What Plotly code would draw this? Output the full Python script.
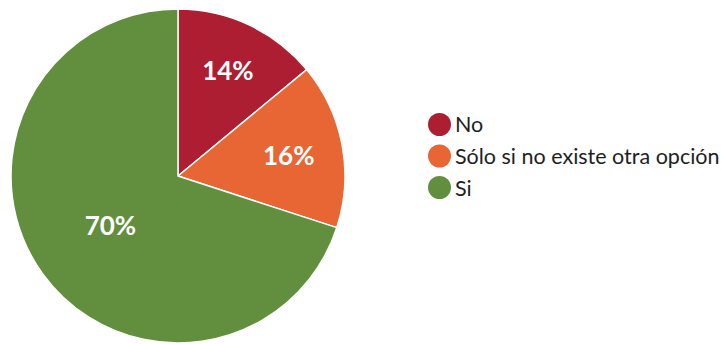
import plotly.graph_objects as go

labels = ["No", "Sólo si no existe otra opción", "Si"]
values = [14, 16, 70]
colors = ["#AE1E32", "#E76633", "#628F3E"]

W, H = 721, 344

fig = go.Figure()
fig.add_trace(go.Pie(
    labels=labels, values=values, sort=False, direction="clockwise", rotation=0,
    marker=dict(colors=colors, line=dict(color="white", width=1.5)),
    textinfo="percent", texttemplate="%{percent:.0%}", textposition="inside",
    insidetextorientation="horizontal",
    textfont=dict(family="Lato", size=26, color="white", weight="bold"),
    showlegend=False, hoverinfo="label+percent",
    domain=dict(x=[11/W, 345/W], y=[1/H, 335/H]),
))

# legend drawn manually (circle markers larger than plotly's legend cap)
leg_cx, leg_r, leg_y0, leg_dy, text_x = 439.5, 11.5, 124.5, 31.5, 453
for i, (lab, col) in enumerate(zip(labels, colors)):
    cy = leg_y0 + i * leg_dy
    fig.add_shape(type="circle", xref="paper", yref="paper",
                  x0=(leg_cx - leg_r) / W, x1=(leg_cx + leg_r) / W,
                  y0=1 - (cy + leg_r) / H, y1=1 - (cy - leg_r) / H,
                  fillcolor=col, line=dict(width=0))
    fig.add_annotation(x=text_x / W, y=1 - cy / H, xref="paper", yref="paper",
                       text=lab, showarrow=False, xanchor="left", yanchor="middle",
                       font=dict(family="Lato", size=21.5, color="#1e1e1e"))

fig.update_layout(
    width=W, height=H, margin=dict(l=0, r=0, t=0, b=0),
    paper_bgcolor="white", plot_bgcolor="white",
    showlegend=False,
)
fig.write_html("out.html", config={"displayModeBar": False},
               post_script="document.body.style.margin='0';")
